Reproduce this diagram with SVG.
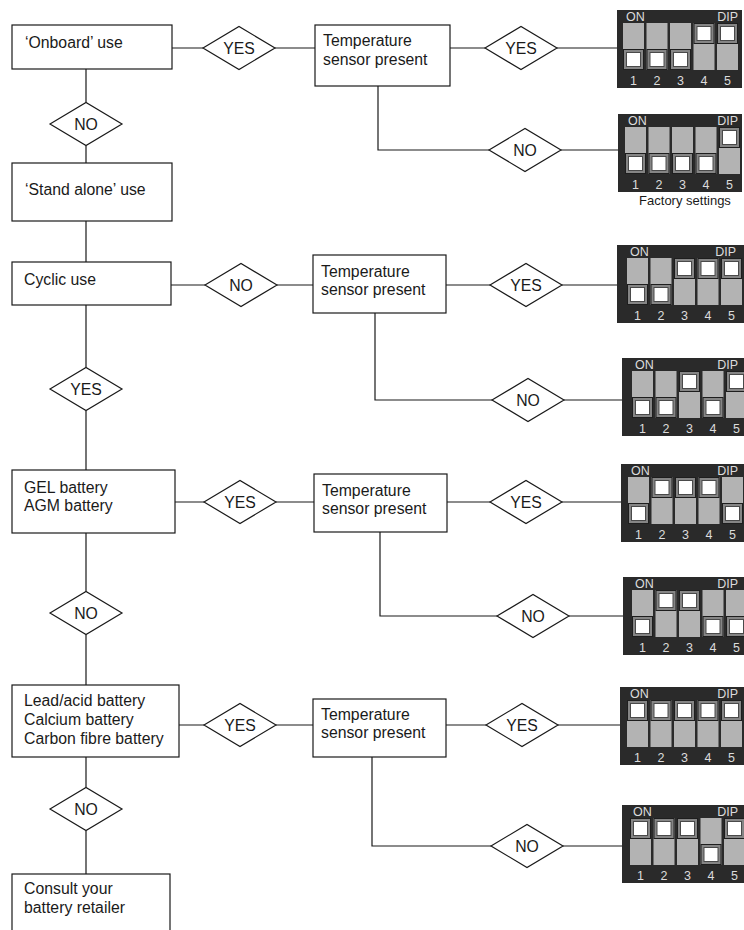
<svg xmlns="http://www.w3.org/2000/svg" xmlns:xlink="http://www.w3.org/1999/xlink" width="744" height="930" viewBox="0 0 744 930">
<style>
.box{fill:#fff;stroke:#1a1a1a;stroke-width:1.2}
.dia{fill:#fff;stroke:#1a1a1a;stroke-width:1.2}
.ln{fill:none;stroke:#1a1a1a;stroke-width:1.2}
.t{font-family:"Liberation Sans",Arial,sans-serif;font-size:15.8px;fill:#1a1a1a}
.c{text-anchor:middle}
.panel{fill:#2a2a2a}
.slot{fill:#b3b3b3}
.dt{font-family:"Liberation Sans",Arial,sans-serif;font-size:12.5px;fill:#dcdcdc}
.fs{font-family:"Liberation Sans",Arial,sans-serif;font-size:13px;fill:#1a1a1a;text-anchor:middle}
</style>
<defs>
<polygon id="dia" class="dia" points="-36,0 0,-21.5 36,0 0,21.5"/>
<g id="slots">
<rect class="slot" x="0" y="0" width="21" height="47"/>
<rect class="slot" x="23.5" y="0" width="21" height="47"/>
<rect class="slot" x="47" y="0" width="21" height="47"/>
<rect class="slot" x="70.5" y="0" width="21" height="47"/>
<rect class="slot" x="94" y="0" width="21" height="47"/>
</g>
<g id="labels" class="dt">
<text x="3" y="-2.5">ON</text>
<text x="10.5" y="61.5" text-anchor="middle">1</text>
<text x="34" y="61.5" text-anchor="middle">2</text>
<text x="57.5" y="61.5" text-anchor="middle">3</text>
<text x="81" y="61.5" text-anchor="middle">4</text>
<text x="104.5" y="61.5" text-anchor="middle">5</text>
</g>
<g id="knob">
<rect x="0.5" y="0.5" width="20" height="20" fill="#858585" stroke="#1e1e1e" stroke-width="1"/>
<rect x="3.5" y="3.5" width="14" height="14" fill="#fff" stroke="#4a4a4a" stroke-width="1"/>
</g>
</defs>

<g id="connectors">
<path class="ln" d="M86 69V102.5M86 145.5V163M86 221V262M86 305V367.5M86 410.5V470M86 533V591.5M86 634.5V685M86 757V787.5M86 830.5V874"/>
<path class="ln" d="M172 48H203M275 48H315M450 48H485M557 48H617"/>
<path class="ln" d="M378 86V150H489M561 150H618"/>
<path class="ln" d="M171 285H205M277 285H313M446 285H490M562 285H617"/>
<path class="ln" d="M375 313V400H492M564 400H622"/>
<path class="ln" d="M175 502H204M276 502H314M447 502H490M562 502H621"/>
<path class="ln" d="M380 532V616H497M569 616H623"/>
<path class="ln" d="M179 725H204M276 725H313M446 725H486M558 725H620"/>
<path class="ln" d="M372 757V846H491M563 846H622"/>
</g>

<g id="onboard"><rect class="box" x="12" y="25" width="160" height="44"/><text class="t" x="25" y="48">‘Onboard’ use</text></g>
<g id="standalone"><rect class="box" x="12" y="163" width="160" height="58"/><text class="t" x="25" y="195">‘Stand alone’ use</text></g>
<g id="cyclic"><rect class="box" x="12" y="262" width="159" height="43"/><text class="t" x="24" y="285">Cyclic use</text></g>
<g id="gel"><rect class="box" x="12" y="470" width="163" height="63"/><text class="t" x="24" y="493">GEL battery</text><text class="t" x="24" y="511">AGM battery</text></g>
<g id="lead"><rect class="box" x="12" y="685" width="167" height="72"/><text class="t" x="24" y="706">Lead/acid battery</text><text class="t" x="24" y="725">Calcium battery</text><text class="t" x="24" y="744">Carbon fibre battery</text></g>
<g id="consult"><rect class="box" x="12" y="874" width="158" height="70"/><text class="t" x="24" y="894">Consult your</text><text class="t" x="24" y="913">battery retailer</text></g>

<g id="temp1"><rect class="box" x="315" y="25" width="135" height="61"/><text class="t" x="323" y="46">Temperature</text><text class="t" x="323" y="65">sensor present</text></g>
<g id="temp3"><rect class="box" x="313" y="255" width="133" height="58"/><text class="t" x="321" y="277">Temperature</text><text class="t" x="321" y="295">sensor present</text></g>
<g id="temp5"><rect class="box" x="314" y="474" width="133" height="58"/><text class="t" x="322" y="496">Temperature</text><text class="t" x="322" y="514">sensor present</text></g>
<g id="temp7"><rect class="box" x="313" y="699" width="133" height="58"/><text class="t" x="321" y="720">Temperature</text><text class="t" x="321" y="738">sensor present</text></g>

<g id="d-l1"><use xlink:href="#dia" x="86" y="124"/><text class="t c" x="86" y="129.5">NO</text></g>
<g id="d-l2"><use xlink:href="#dia" x="86" y="389"/><text class="t c" x="86" y="394.5">YES</text></g>
<g id="d-l3"><use xlink:href="#dia" x="86" y="613"/><text class="t c" x="86" y="618.5">NO</text></g>
<g id="d-l4"><use xlink:href="#dia" x="86" y="809"/><text class="t c" x="86" y="814.5">NO</text></g>

<g id="d-r1"><use xlink:href="#dia" x="239" y="48"/><text class="t c" x="239" y="53.5">YES</text></g>
<g id="d-r3"><use xlink:href="#dia" x="241" y="285"/><text class="t c" x="241" y="290.5">NO</text></g>
<g id="d-r5"><use xlink:href="#dia" x="240" y="502"/><text class="t c" x="240" y="507.5">YES</text></g>
<g id="d-r7"><use xlink:href="#dia" x="240" y="725"/><text class="t c" x="240" y="730.5">YES</text></g>

<g id="d-s1"><use xlink:href="#dia" x="521" y="48"/><text class="t c" x="521" y="53.5">YES</text></g>
<g id="d-s2"><use xlink:href="#dia" x="525" y="150"/><text class="t c" x="525" y="155.5">NO</text></g>
<g id="d-s3"><use xlink:href="#dia" x="526" y="285"/><text class="t c" x="526" y="290.5">YES</text></g>
<g id="d-s4"><use xlink:href="#dia" x="528" y="400"/><text class="t c" x="528" y="405.5">NO</text></g>
<g id="d-s5"><use xlink:href="#dia" x="526" y="502"/><text class="t c" x="526" y="507.5">YES</text></g>
<g id="d-s6"><use xlink:href="#dia" x="533" y="616"/><text class="t c" x="533" y="621.5">NO</text></g>
<g id="d-s7"><use xlink:href="#dia" x="522" y="725"/><text class="t c" x="522" y="730.5">YES</text></g>
<g id="d-s8"><use xlink:href="#dia" x="527" y="846"/><text class="t c" x="527" y="851.5">NO</text></g>

<g id="dip1" transform="translate(623,23)">
<rect class="panel" x="-6" y="-13" width="125" height="78"/><use xlink:href="#slots"/><use xlink:href="#labels"/><text class="dt" x="115" y="-2.5" text-anchor="end">DIP</text>
<use xlink:href="#knob" x="0" y="26"/><use xlink:href="#knob" x="23.5" y="26"/><use xlink:href="#knob" x="47" y="26"/><use xlink:href="#knob" x="70.5" y="0"/><use xlink:href="#knob" x="94" y="0"/>
</g>
<g id="dip2" transform="translate(625,127)">
<rect class="panel" x="-7" y="-13" width="124" height="78"/><use xlink:href="#slots"/><use xlink:href="#labels"/><text class="dt" x="113" y="-2.5" text-anchor="end">DIP</text>
<use xlink:href="#knob" x="0" y="26"/><use xlink:href="#knob" x="23.5" y="26"/><use xlink:href="#knob" x="47" y="26"/><use xlink:href="#knob" x="70.5" y="26"/><use xlink:href="#knob" x="94" y="0"/>
</g>
<text class="fs" x="685" y="205">Factory settings</text>
<g id="dip3" transform="translate(627,258)">
<rect class="panel" x="-10" y="-13" width="130" height="78"/><use xlink:href="#slots"/><use xlink:href="#labels"/><text class="dt" x="109" y="-2.5" text-anchor="end">DIP</text>
<use xlink:href="#knob" x="0" y="26"/><use xlink:href="#knob" x="23.5" y="26"/><use xlink:href="#knob" x="47" y="0"/><use xlink:href="#knob" x="70.5" y="0"/><use xlink:href="#knob" x="94" y="0"/>
</g>
<g id="dip4" transform="translate(632,371)">
<rect class="panel" x="-10" y="-13" width="130" height="78"/><use xlink:href="#slots"/><use xlink:href="#labels"/><text class="dt" x="106" y="-2.5" text-anchor="end">DIP</text>
<use xlink:href="#knob" x="0" y="26"/><use xlink:href="#knob" x="23.5" y="26"/><use xlink:href="#knob" x="47" y="0"/><use xlink:href="#knob" x="70.5" y="26"/><use xlink:href="#knob" x="94" y="0"/>
</g>
<g id="dip5" transform="translate(628,477)">
<rect class="panel" x="-7" y="-13" width="126" height="78"/><use xlink:href="#slots"/><use xlink:href="#labels"/><text class="dt" x="110" y="-2.5" text-anchor="end">DIP</text>
<use xlink:href="#knob" x="0" y="26"/><use xlink:href="#knob" x="23.5" y="0"/><use xlink:href="#knob" x="47" y="0"/><use xlink:href="#knob" x="70.5" y="0"/><use xlink:href="#knob" x="94" y="26"/>
</g>
<g id="dip6" transform="translate(632,590)">
<rect class="panel" x="-9" y="-13" width="130" height="78"/><use xlink:href="#slots"/><use xlink:href="#labels"/><text class="dt" x="106" y="-2.5" text-anchor="end">DIP</text>
<use xlink:href="#knob" x="0" y="26"/><use xlink:href="#knob" x="23.5" y="0"/><use xlink:href="#knob" x="47" y="0"/><use xlink:href="#knob" x="70.5" y="26"/><use xlink:href="#knob" x="94" y="26"/>
</g>
<g id="dip7" transform="translate(627,700)">
<rect class="panel" x="-7" y="-13" width="126" height="78"/><use xlink:href="#slots"/><use xlink:href="#labels"/><text class="dt" x="111" y="-2.5" text-anchor="end">DIP</text>
<use xlink:href="#knob" x="0" y="0"/><use xlink:href="#knob" x="23.5" y="0"/><use xlink:href="#knob" x="47" y="0"/><use xlink:href="#knob" x="70.5" y="0"/><use xlink:href="#knob" x="94" y="0"/>
</g>
<g id="dip8" transform="translate(630,818)">
<rect class="panel" x="-8" y="-13" width="128" height="78"/><use xlink:href="#slots"/><use xlink:href="#labels"/><text class="dt" x="108" y="-2.5" text-anchor="end">DIP</text>
<use xlink:href="#knob" x="0" y="0"/><use xlink:href="#knob" x="23.5" y="0"/><use xlink:href="#knob" x="47" y="0"/><use xlink:href="#knob" x="70.5" y="26"/><use xlink:href="#knob" x="94" y="0"/>
</g>
</svg>
